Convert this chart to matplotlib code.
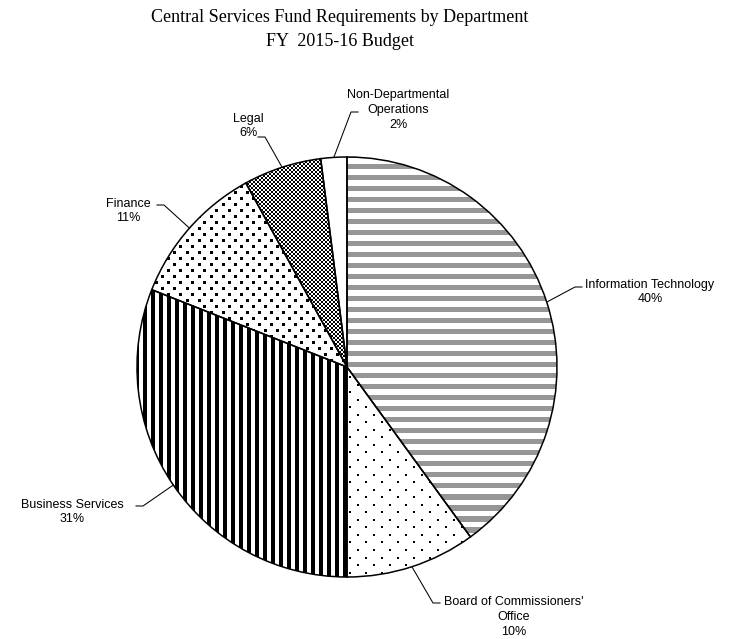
import numpy as np
import matplotlib

matplotlib.use("Agg")
import matplotlib.pyplot as plt  # noqa: E402
from matplotlib.collections import PatchCollection  # noqa: E402
from matplotlib.patches import Rectangle, Wedge  # noqa: E402

# Budget shares by department, clockwise from 12 o'clock
DEPARTMENTS = [
    "Information Technology",
    "Board of Commissioners'\nOffice",
    "Business Services",
    "Finance",
    "Legal",
    "Non-Departmental\nOperations",
]
SHARES = [40, 10, 31, 11, 6, 2]

TITLE_LINES = ["Central Services Fund Requirements by Department", "FY  2015-16 Budget"]

# layout: figure in pixels, pie centre and radius in pixels
FIG_W, FIG_H, DPI = 744, 639, 100
CX, CY, R_PX = 347, 367, 210

# label block centre and leader attach point (pixel coords), elbow direction
LABEL_LAYOUT = [
    ((650, 292), (582, 287), -1),
    ((514, 617), (440, 603), -1),
    ((72, 512), (136, 506), 1),
    ((128, 211), (157, 205), 1),
    ((248, 126), (258, 137), 1),
    ((398, 110), (358, 112), -1),
]

TEXT_FONT = ["Liberation Sans", "DejaVu Sans"]
TITLE_FONT = ["Liberation Serif", "DejaVu Serif"]
STRIPE_GRAY = "#969696"


def px(x, y):
    """Pixel position (origin top-left) -> data units (pie radius = 1)."""
    return (x - CX) / R_PX, (CY - y) / R_PX


def clip_to(artist, wedge):
    artist.set_clip_path(wedge)
    return artist


def hstripes(ax, wedge, period, band, color):
    rects = [Rectangle((-1.05, y), 2.1, band) for y in np.arange(-1.05, 1.05, period)]
    pc = PatchCollection(rects, facecolor=color, edgecolor="none", zorder=2)
    ax.add_collection(pc)
    clip_to(pc, wedge)


def vstripes(ax, wedge, period, band, color):
    rects = [Rectangle((x, -1.05), band, 2.1) for x in np.arange(-1.05, 1.05, period)]
    pc = PatchCollection(rects, facecolor=color, edgecolor="none", zorder=2)
    ax.add_collection(pc)
    clip_to(pc, wedge)


def dots(ax, wedge, dx, dy, size_px):
    xs, ys = [], []
    for i, y in enumerate(np.arange(-1.05, 1.05, dy)):
        off = 0.0 if i % 2 == 0 else dx / 2
        for x in np.arange(-1.05 + off, 1.05, dx):
            xs.append(x)
            ys.append(y)
    pts = ax.scatter(xs, ys, s=(size_px * 72 / DPI) ** 2, marker="s",
                     color="black", linewidths=0, zorder=2)
    clip_to(pts, wedge)


def checker(ax, wedge, cell_px):
    n = int(round(2 * R_PX / cell_px))
    grid = (np.indices((n, n)).sum(axis=0) % 2).astype(float)
    im = ax.imshow(grid, cmap="gray", extent=(-1, 1, -1, 1),
                   interpolation="nearest", zorder=2, vmin=0, vmax=1)
    clip_to(im, wedge)


fig = plt.figure(figsize=(FIG_W / DPI, FIG_H / DPI), dpi=DPI)
ax = fig.add_axes([0, 0, 1, 1])

wedges, _ = ax.pie(SHARES, startangle=90, counterclock=False, radius=1,
                   wedgeprops=dict(facecolor="white", edgecolor="none"))

u = 1.0 / R_PX
hstripes(ax, wedges[0], 11 * u, 5.5 * u, STRIPE_GRAY)
dots(ax, wedges[1], 16 * u, 7.5 * u, 2)
vstripes(ax, wedges[2], 8 * u, 4 * u, "black")
dots(ax, wedges[3], 12 * u, 6 * u, 3)
checker(ax, wedges[4], 2)

# outlines on top of the fill patterns
for w in wedges:
    ax.add_patch(Wedge(w.center, w.r, w.theta1, w.theta2, facecolor="none",
                       edgecolor="black", linewidth=1.1, zorder=4))

# labels with elbow leader lines to each slice's mid-angle on the rim
for w, name, share, (tcenter, attach, side) in zip(wedges, DEPARTMENTS, SHARES, LABEL_LAYOUT):
    mid = np.deg2rad((w.theta1 + w.theta2) / 2)
    rim = (np.cos(mid), np.sin(mid))
    ax_, ay_ = px(*attach)
    ex = ax_ + side * 7 * u
    ax.plot([ax_, ex, rim[0]], [ay_, ay_, rim[1]], color="black", linewidth=0.75, zorder=5)
    tx, ty = px(*tcenter)
    ax.text(tx, ty, f"{name}\n{share}%", ha="center", va="center",
            multialignment="center", fontsize=9, family=TEXT_FONT,
            linespacing=1.3, zorder=6)

ax.set_xlim(-CX / R_PX, (FIG_W - CX) / R_PX)
ax.set_ylim((CY - FIG_H) / R_PX, CY / R_PX)
ax.set_aspect("auto")
ax.axis("off")

fig.text(340 / FIG_W, 1 - 17 / FIG_H, TITLE_LINES[0], ha="center", va="center",
         fontsize=13, family=TITLE_FONT)
fig.text(340 / FIG_W, 1 - 41 / FIG_H, TITLE_LINES[1], ha="center", va="center",
         fontsize=13, family=TITLE_FONT)

fig.savefig("out.png", dpi=DPI)
